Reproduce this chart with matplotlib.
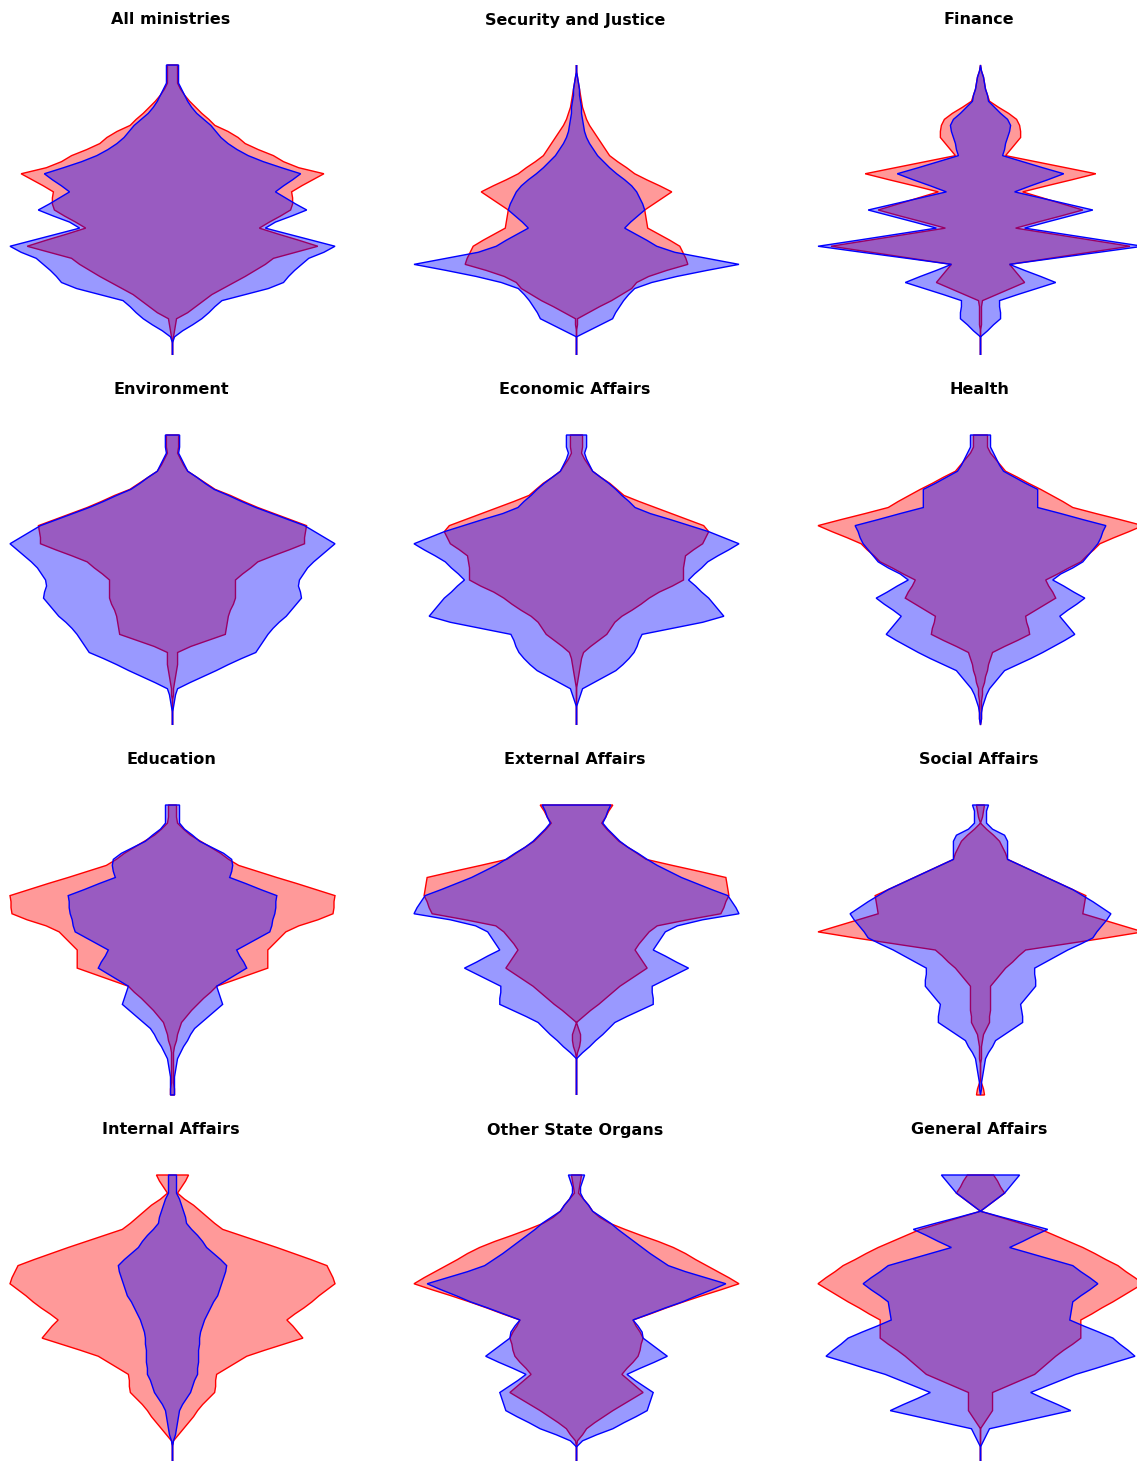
import numpy as np
import matplotlib.pyplot as plt

# 49 steps per panel, step 0 at the top
levels = np.arange(49)

titles = ["All ministries", "Security and Justice", "Finance",
          "Environment", "Economic Affairs", "Health",
          "Education", "External Affairs", "Social Affairs",
          "Internal Affairs", "Other State Organs", "General Affairs"]

# red series (drawn first) and blue series, half-width per step
all_red = [5, 5, 5, 5, 8, 12, 17, 23, 29, 36, 42, 55, 65, 72, 85, 100, 110, 125, 150, 139,
           128, 118, 119, 119, 117, 107, 96, 86, 105, 125, 144, 122, 100, 92, 82, 72, 61, 50, 39, 31,
           23, 15, 4, 3, 2, 1, 0, 0, 0]
all_blue = [6, 6, 6, 6, 9, 12, 15, 19, 24, 31, 38, 43, 48, 55, 64, 75, 90, 108, 127, 119,
            110, 102, 112, 122, 133, 118, 102, 92, 115, 138, 161, 150, 135, 128, 121, 115, 110, 95, 72, 49,
            42, 36, 29, 20, 10, 2, 0, 0, 0]

sec_red = [0, 0, 1, 2, 3, 4, 5, 6, 8, 10, 13, 17, 21, 25, 29, 33, 41, 50, 58, 70,
           83, 95, 86, 77, 68, 69, 70, 71, 82, 93, 103, 106, 109, 111, 90, 72, 60, 55, 45, 35,
           23, 12, 1, 1, 0, 0, 0, 0, 0]
sec_blue = [0, 0, 1, 2, 3, 3, 4, 5, 5, 6, 7, 8, 10, 13, 17, 21, 27, 33, 40, 48,
            55, 60, 63, 66, 68, 61, 54, 48, 59, 70, 80, 98, 130, 162, 130, 100, 75, 58, 52, 47,
            43, 39, 36, 24, 12, 0, 0, 0, 0]

fin_red = [0, 1, 3, 4, 5, 7, 9, 18, 28, 36, 39, 40, 40, 35, 30, 25, 55, 85, 115, 91,
           66, 42, 62, 82, 102, 80, 57, 35, 73, 111, 149, 109, 69, 29, 34, 39, 44, 30, 16, 2,
           1, 1, 1, 1, 0, 0, 0, 0, 0]
fin_blue = [0, 1, 3, 4, 5, 7, 8, 14, 20, 27, 30, 29, 27, 25, 24, 22, 42, 62, 83, 67,
            50, 34, 60, 86, 112, 89, 66, 44, 83, 122, 162, 118, 73, 29, 44, 60, 75, 56, 37, 19,
            19, 20, 20, 13, 7, 0, 0, 0, 0]

env_red = [6, 6, 6, 5, 8, 11, 15, 24, 33, 42, 57, 70, 84, 100, 116, 132, 131, 130, 130, 115,
           99, 84, 77, 69, 62, 62, 62, 62, 60, 57, 55, 54, 53, 52, 35, 18, 5, 5, 5, 4,
           3, 2, 1, 1, 0, 0, 0, 0, 0]
env_blue = [7, 7, 7, 6, 9, 12, 15, 24, 32, 41, 55, 68, 82, 98, 114, 130, 140, 150, 160, 153,
            146, 139, 133, 129, 125, 124, 126, 127, 122, 117, 112, 105, 99, 94, 90, 86, 82, 68, 55, 43,
            30, 17, 5, 3, 2, 1, 0, 0, 0]

eco_red = [6, 6, 6, 5, 8, 12, 16, 24, 33, 40, 47, 62, 78, 94, 110, 126, 131, 128, 125, 116,
           108, 107, 106, 106, 106, 95, 82, 72, 64, 55, 45, 38, 34, 30, 22, 14, 7, 5, 4, 3,
           2, 1, 0, 0, 0, 0, 0, 0, 0]
eco_blue = [10, 10, 10, 8, 10, 13, 16, 24, 32, 39, 45, 52, 58, 73, 93, 112, 131, 146, 161, 151,
            140, 130, 124, 117, 111, 118, 124, 131, 136, 141, 146, 125, 95, 65, 62, 60, 57, 52, 46, 39,
            28, 17, 6, 4, 2, 0, 0, 0, 0]

hea_red = [7, 7, 7, 10, 15, 20, 25, 37, 48, 60, 71, 82, 92, 115, 139, 162, 148, 133, 119, 113,
           106, 100, 88, 77, 65, 68, 72, 75, 65, 55, 45, 46, 48, 49, 37, 24, 12, 10, 8, 7,
           5, 4, 2, 2, 1, 1, 1, 1, 0]
hea_blue = [10, 10, 10, 13, 16, 19, 23, 34, 45, 57, 57, 57, 57, 80, 102, 125, 122, 120, 117, 112,
            107, 102, 92, 80, 72, 83, 93, 104, 96, 87, 79, 84, 89, 94, 84, 73, 62, 50, 37, 24,
            19, 14, 9, 6, 4, 2, 1, 1, 0]

edu_red = [4, 4, 4, 5, 11, 18, 28, 38, 48, 56, 66, 85, 104, 124, 143, 162, 161, 161, 160, 145,
           126, 113, 107, 101, 95, 95, 95, 95, 78, 61, 44, 38, 31, 25, 19, 14, 9, 7, 5, 4,
           2, 1, 1, 1, 1, 1, 1, 2, 2]
edu_blue = [7, 7, 7, 7, 12, 20, 27, 39, 51, 59, 60, 59, 57, 73, 88, 104, 103, 103, 102, 100,
            99, 97, 86, 75, 64, 67, 71, 74, 64, 54, 44, 46, 48, 50, 43, 36, 29, 22, 18, 15,
            11, 8, 5, 4, 3, 2, 2, 2, 2]

ext_red = [36, 32, 29, 25, 30, 36, 42, 51, 60, 69, 95, 122, 148, 149, 150, 151, 148, 146, 143, 110,
           80, 72, 67, 62, 58, 62, 66, 70, 61, 52, 43, 36, 29, 22, 14, 7, 0, 2, 4, 4,
           3, 1, 0, 0, 0, 0, 0, 0, 0]
ext_blue = [34, 31, 29, 26, 31, 37, 43, 51, 61, 70, 80, 92, 104, 119, 134, 150, 154, 158, 161, 125,
            100, 88, 84, 80, 76, 88, 99, 111, 99, 87, 75, 75, 76, 76, 63, 50, 38, 32, 26, 19,
            13, 6, 0, 0, 0, 0, 0, 0, 0]

soc_red = [4, 3, 2, 0, 6, 13, 19, 22, 25, 27, 40, 53, 66, 79, 92, 105, 104, 103, 102, 122,
           142, 162, 125, 85, 45, 38, 32, 25, 20, 15, 10, 10, 10, 10, 10, 9, 9, 6, 3, 2,
           1, 1, 1, 0, 0, 0, 1, 3, 4]
soc_blue = [8, 6, 6, 6, 12, 24, 27, 27, 27, 27, 40, 53, 66, 79, 92, 102, 112, 121, 130, 126,
            121, 116, 112, 100, 87, 76, 65, 54, 54, 55, 55, 50, 45, 40, 41, 42, 42, 33, 24, 15,
            12, 8, 5, 4, 3, 2, 1, 1, 0]

int_red = [16, 13, 9, 5, 12, 21, 28, 35, 42, 50, 68, 86, 104, 121, 138, 154, 157, 160, 162, 154,
           146, 139, 131, 122, 114, 120, 125, 130, 111, 92, 74, 64, 54, 44, 43, 43, 42, 36, 30, 25,
           21, 16, 11, 6, 1, 0, 0, 0, 0]
int_blue = [4, 4, 4, 4, 7, 9, 11, 13, 14, 19, 25, 30, 34, 41, 48, 54, 53, 51, 49, 47,
            45, 41, 38, 35, 32, 30, 28, 27, 27, 26, 26, 26, 25, 25, 22, 20, 18, 14, 10, 7,
            6, 5, 4, 3, 1, 0, 0, 0, 0]

oth_red = [5, 4, 3, 2, 7, 12, 16, 23, 33, 48, 64, 81, 96, 108, 118, 129, 140, 151, 161, 143,
           124, 106, 89, 73, 56, 59, 63, 66, 64, 63, 61, 56, 50, 45, 52, 59, 66, 56, 46, 36,
           27, 18, 10, 6, 1, 0, 0, 0, 0]
oth_blue = [8, 6, 4, 4, 7, 12, 16, 25, 34, 41, 49, 57, 65, 73, 82, 91, 108, 128, 148, 134,
            119, 105, 88, 72, 56, 61, 65, 66, 74, 82, 90, 77, 63, 50, 58, 67, 76, 74, 72, 70,
            59, 47, 36, 20, 6, 0, 0, 0, 0]

gen_red = [13, 17, 20, 24, 16, 8, 0, 20, 40, 60, 74, 88, 102, 114, 125, 137, 145, 154, 162, 152,
           142, 132, 121, 111, 100, 100, 100, 100, 92, 83, 75, 68, 61, 54, 40, 26, 12, 12, 12, 12,
           8, 4, 0, 0, 0, 0, 0, 0, 0]
gen_blue = [39, 34, 29, 24, 16, 8, 0, 22, 45, 67, 54, 42, 29, 50, 71, 92, 100, 109, 117, 109,
            100, 92, 91, 90, 89, 103, 118, 132, 139, 147, 154, 134, 115, 95, 80, 65, 50, 63, 77, 90,
            63, 36, 9, 6, 3, 0, 0, 0, 0]

reds = [all_red, sec_red, fin_red, env_red, eco_red, hea_red,
        edu_red, ext_red, soc_red, int_red, oth_red, gen_red]
blues = [all_blue, sec_blue, fin_blue, env_blue, eco_blue, hea_blue,
         edu_blue, ext_blue, soc_blue, int_blue, oth_blue, gen_blue]

W, H = 1137, 1461
fig = plt.figure(figsize=(W / 100, H / 100), dpi=100)


def pyramid(ax, w, face, edge):
    w = np.asarray(w, dtype=float)
    x = np.r_[-w, w[::-1]]
    y = np.r_[levels, levels[::-1]]
    ax.fill(x, y, facecolor=face, edgecolor=edge, linewidth=1.0, clip_on=False)


for i, (title, red, blue) in enumerate(zip(titles, reds, blues)):
    r, c = divmod(i, 3)
    left = 10 + 404 * c
    top = 65 + 370 * r
    ax = fig.add_axes([left / W, 1 - (top + 290) / H, 325 / W, 290 / H])
    pyramid(ax, red, (1, 0, 0, 0.4), "red")
    pyramid(ax, blue, (0, 0, 1, 0.4), "blue")
    m = max(max(red), max(blue))
    ax.set_xlim(-m, m)
    ax.set_ylim(levels[-1], levels[0])
    ax.axis("off")
    fig.text((left + 161) / W, 1 - (20 + 370 * r) / H, title,
             ha="center", va="center", fontsize=11.5, fontweight="bold")

fig.savefig("out.png", dpi=100)
